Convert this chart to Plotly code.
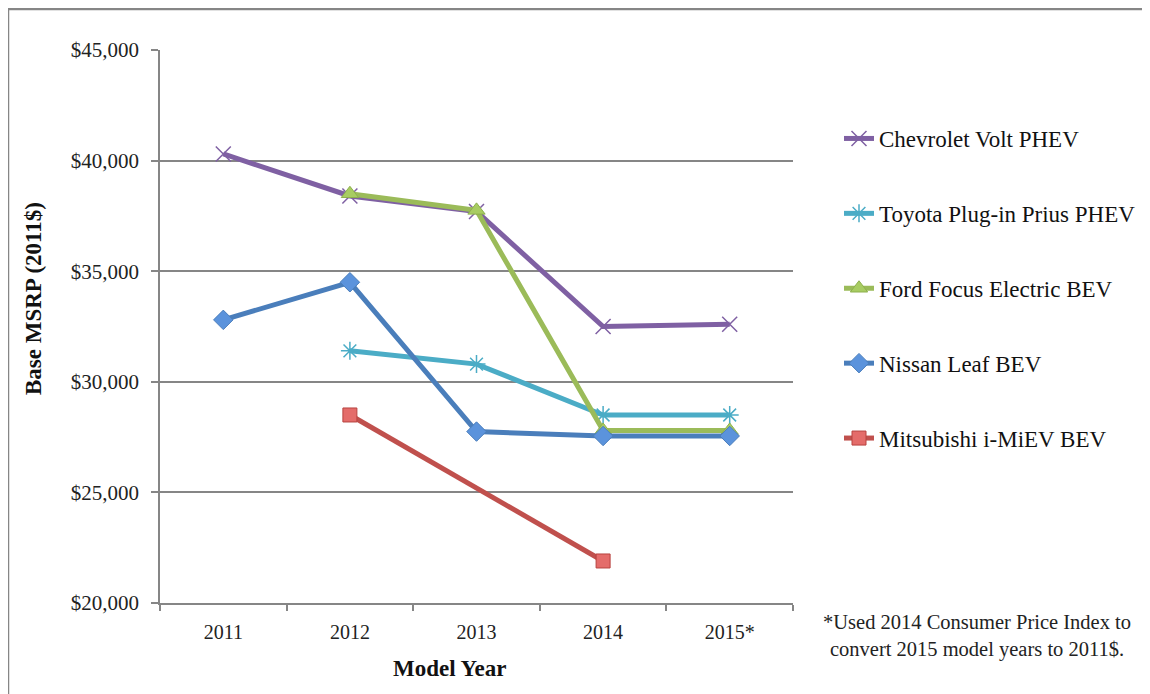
import plotly.graph_objects as go

years = ["2011", "2012", "2013", "2014", "2015*"]
volt = [40300, 38400, 37700, 32500, 32600]
prius = [None, 31400, 30800, 28500, 28500]
focus = [None, 38500, 37750, 27800, 27800]
leaf = [32800, 34500, 27750, 27550, 27550]
imiev = [None, 28500, None, 21900, None]

series = [
    ("Chevrolet Volt PHEV", volt, "#7F60A3", dict(symbol="x-thin", size=15, line=dict(color="#7F60A3", width=1.5))),
    ("Toyota Plug-in Prius PHEV", prius, "#4BACC6", dict(symbol="asterisk", size=15, line=dict(color="#4BACC6", width=1.5))),
    ("Ford Focus Electric BEV", focus, "#9BBB59", dict(symbol="triangle-up", size=15, color="#A8CC62", line=dict(color="#8DB04C", width=1))),
    ("Nissan Leaf BEV", leaf, "#4A7EBB", dict(symbol="diamond", size=15, color="#5B93DC", line=dict(color="#4A7EBB", width=1))),
    ("Mitsubishi i-MiEV BEV", imiev, "#C0504D", dict(symbol="square", size=14, color="#E46C6A", line=dict(color="#B8423F", width=1))),
]

fig = go.Figure()
for i, (name, vals, col, mk) in enumerate(series):
    mk = dict(mk)
    mk.setdefault("color", col)
    fig.add_trace(go.Scatter(
        x=years, y=vals, name=name, mode="lines+markers",
        line=dict(color=col, width=5), marker=mk,
        connectgaps=True, legendgroup=f"g{i}",
    ))

OFF = 8  # page body margin
W, H = 1150 - OFF, 694 - OFF
L, T = 160 - OFF, 50 - OFF
R = W - (793 - OFF)
B = H - (603 - OFF)
pw, ph = W - L - R, H - T - B

def px_x(p):
    return (p - OFF - L) / pw

def px_y(p):
    return (H - B - (p - OFF)) / ph

serif = "Liberation Serif"

fig.update_layout(
    width=W, height=H,
    margin=dict(l=L, r=R, t=T, b=B, autoexpand=False),
    paper_bgcolor="white", plot_bgcolor="white",
    font=dict(family=serif, size=20, color="#222222"),
    showlegend=True,
    legend=dict(
        x=px_x(839), y=px_y(117), xanchor="left", yanchor="top",
        font=dict(family=serif, size=23, color="#111111"),
        tracegroupgap=42, itemwidth=30, bgcolor="rgba(0,0,0,0)",
    ),
    xaxis=dict(
        type="category", range=[-0.5, 4.5], tickson="boundaries",
        ticks="outside", ticklen=6, tickcolor="#868686", tickwidth=1.5,
        showline=True, linecolor="#868686", linewidth=1.5,
        showgrid=False, tickfont=dict(family=serif, size=20, color="#222222"),
        ticklabelstandoff=10,
    ),
    yaxis=dict(
        range=[20000, 45000], dtick=5000, tickformat="$,.0f",
        ticks="outside", ticklen=7, tickcolor="#868686", tickwidth=1.5,
        showline=True, linecolor="#868686", linewidth=1.5,
        showgrid=True, gridcolor="#868686", gridwidth=1.5, zeroline=False,
        tickfont=dict(family=serif, size=21, color="#222222"),
        ticklabelstandoff=8,
    ),
    annotations=[
        dict(
            xref="paper", yref="paper", x=px_x(977), y=px_y(636),
            xanchor="center", yanchor="middle", showarrow=False, align="center",
            text="*Used 2014 Consumer Price Index to<br>convert 2015 model years to 2011$.",
            font=dict(family=serif, size=20.5, color="#222222"),
        ),
        dict(
            xref="paper", yref="paper", x=px_x(449), y=px_y(668),
            xanchor="center", yanchor="middle", showarrow=False,
            text="<b>Model Year</b>", font=dict(family=serif, size=23, color="#111111"),
        ),
        dict(
            xref="paper", yref="paper", x=px_x(33), y=px_y(299),
            xanchor="center", yanchor="middle", showarrow=False, textangle=-90,
            text="<b>Base MSRP (2011$)</b>", font=dict(family=serif, size=23, color="#111111"),
        ),
    ],
    shapes=[
        dict(type="line", xref="paper", yref="paper", x0=px_x(8), x1=px_x(1160), y0=px_y(9), y1=px_y(9),
             line=dict(color="#868686", width=2.5)),
        dict(type="line", xref="paper", yref="paper", x0=px_x(8), x1=px_x(8), y0=px_y(9), y1=px_y(700),
             line=dict(color="#868686", width=2.5)),
    ],
)

fig.write_html("out.html")
